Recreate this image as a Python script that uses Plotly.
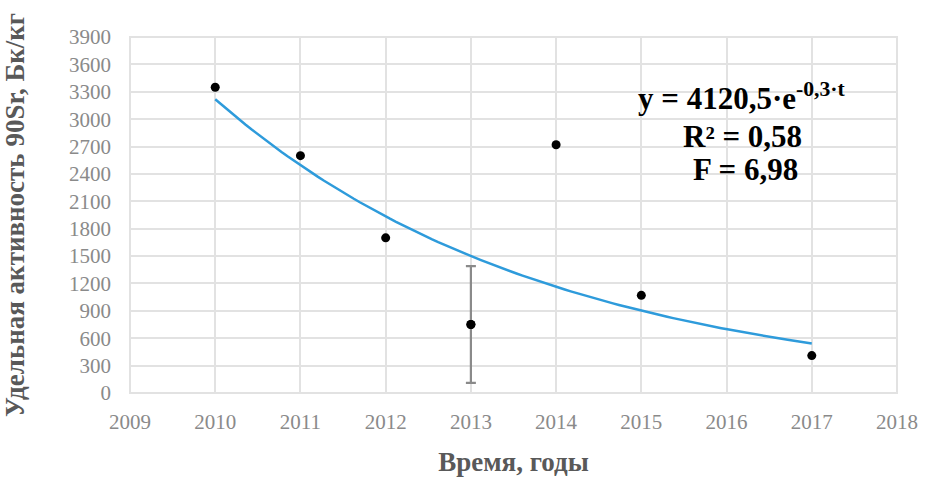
import numpy as np
import plotly.graph_objects as go

# Data
years = [2010, 2011, 2012, 2013, 2014, 2015, 2017]
activity = [3350, 2600, 1700, 750, 2720, 1070, 410]
err_year = [2013]
err_value = [750]
err_plus = [640]

x_ticks = list(range(2009, 2019))
y_ticks = list(range(0, 4200, 300))

eq_text = "y = 4120,5·e<sup>-0,3·t</sup>"
r2_text = "R² = 0,58"
f_text = "F = 6,98"

# Exponential trend fitted to the data (t = year - 2009)
t = np.array(years) - 2009
b, ln_a = np.polyfit(t, np.log(activity), 1)
t_fit = np.linspace(t.min(), t.max(), 100)
y_fit = np.exp(ln_a) * np.exp(b * t_fit)

serif = "Liberation Serif, Times New Roman, serif"

fig = go.Figure()
fig.add_trace(go.Scatter(
    x=t_fit + 2009, y=y_fit, mode="lines",
    line=dict(color="#2e9bdb", width=2.5), hoverinfo="skip", showlegend=False))
fig.add_trace(go.Scatter(
    x=err_year, y=err_value, mode="markers",
    marker=dict(color="black", size=9),
    error_y=dict(type="data", array=err_plus, color="#8a8a8a", thickness=2.2, width=5),
    showlegend=False))
fig.add_trace(go.Scatter(
    x=years, y=activity, mode="markers",
    marker=dict(color="black", size=9), showlegend=False))

fig.update_layout(
    width=940, height=482,
    margin=dict(l=130, r=43, t=37, b=89, autoexpand=False),
    paper_bgcolor="white", plot_bgcolor="white",
    font=dict(family=serif, color="#8a8a8a"),
    xaxis=dict(
        range=[2009, 2018], tickvals=x_ticks, ticktext=[str(v) for v in x_ticks],
        showgrid=True, gridcolor="#e2e2e2", gridwidth=2, zeroline=False,
        showline=False, ticks="", tickfont=dict(size=21, color="#8a8a8a"),
        ticklabelstandoff=14,
        title=dict(text="<b>Время, годы</b>", font=dict(size=27, color="#595959"), standoff=19),
        automargin=False,
    ),
    yaxis=dict(
        range=[0, 3900], tickvals=y_ticks, ticktext=[str(v) for v in y_ticks],
        showgrid=True, gridcolor="#e2e2e2", gridwidth=2, zeroline=False,
        showline=False, ticks="", tickfont=dict(size=21, color="#8a8a8a"),
        ticklabelstandoff=18,
        title=dict(text="<b>Удельная активность 90Sr, Бк/кг</b>",
                   font=dict(size=27, color="#595959"), standoff=38),
        automargin=False,
    ),
    annotations=[
        dict(text="<b>" + eq_text + "</b>", xref="paper", yref="paper",
             x=0.798, y=0.832, showarrow=False, xanchor="center", yanchor="middle",
             font=dict(family=serif, size=31, color="black")),
        dict(text="<b>" + r2_text + "</b>", xref="paper", yref="paper",
             x=0.798, y=0.72, showarrow=False, xanchor="center", yanchor="middle",
             font=dict(family=serif, size=31, color="black")),
        dict(text="<b>" + f_text + "</b>", xref="paper", yref="paper",
             x=0.802, y=0.627, showarrow=False, xanchor="center", yanchor="middle",
             font=dict(family=serif, size=31, color="black")),
    ],
)
fig.add_shape(type="rect", xref="paper", yref="paper", x0=0, y0=0, x1=1, y1=1,
              line=dict(color="#e2e2e2", width=2), layer="below")

fig.write_html("out.html")
